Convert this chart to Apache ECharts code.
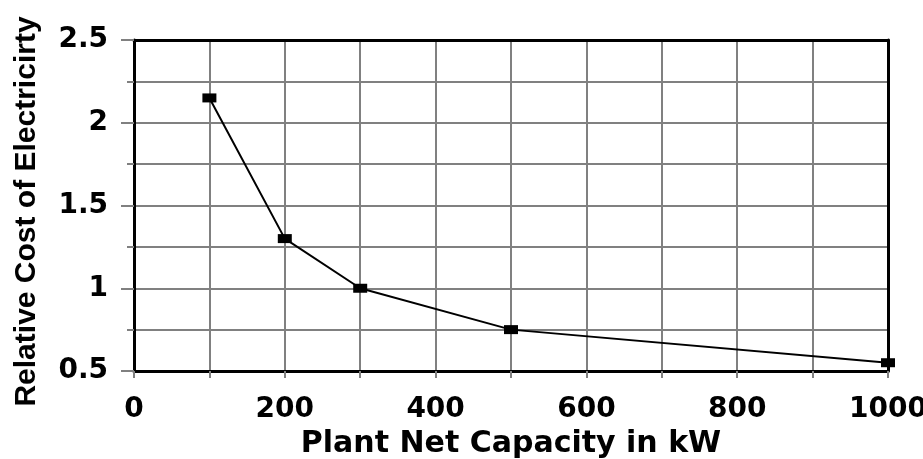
<!DOCTYPE html>
<html>
<head>
<meta charset="utf-8">
<script src="https://cdn.jsdelivr.net/npm/echarts@6/dist/echarts.min.js"></script>
<style>
  html, body { margin: 0; padding: 0; background: #fff; }
  #chart { width: 923px; height: 459px; }
</style>
</head>
<body>
<div id="chart"></div>
<script>
// Data
var capacityKW = [100, 200, 300, 500, 1000];
var relativeCost = [2.15, 1.30, 1.00, 0.75, 0.55];
var xTitle = 'Plant Net Capacity in kW';
var yTitle = 'Relative Cost of Electricirty';

var chart = echarts.init(document.getElementById('chart'), null, { renderer: 'canvas' });
var gray = '#808080';
var labelFont = { fontFamily: 'DejaVu Sans', fontWeight: 'bold', fontSize: 28, color: '#000' };
var borderAxis = {
  type: 'value', min: 0, max: 1000, interval: 100,
  axisLine: { show: true, onZero: false, lineStyle: { color: '#000', width: 3 } },
  axisTick: { show: false }, axisLabel: { show: false }, splitLine: { show: false }
};

chart.setOption({
  animation: false,
  backgroundColor: '#fff',
  grid: { left: 134, right: 35, top: 40, bottom: 88, containLabel: false, outerBoundsMode: 'none' },
  xAxis: [{
    type: 'value', min: 0, max: 1000, interval: 100,
    name: xTitle, nameLocation: 'middle', nameGap: 52,
    nameTextStyle: { fontFamily: 'DejaVu Sans', fontWeight: 'bold', fontSize: 30, color: '#000' },
    axisLine: { show: true, onZero: false, lineStyle: { color: '#000', width: 3 } },
    axisTick: { show: true, length: 7, lineStyle: { color: gray, width: 2 } },
    splitLine: { show: true, lineStyle: { color: gray, width: 2 } },
    axisLabel: Object.assign({ margin: 25, formatter: function (v) { return v % 200 === 0 ? String(v) : ''; } }, labelFont)
  }, Object.assign({ position: 'top' }, borderAxis)],
  yAxis: [{
    type: 'value', min: 0.5, max: 2.5, interval: 0.5,
    name: yTitle, nameLocation: 'middle', nameGap: 92, nameRotate: 90,
    nameTextStyle: { fontFamily: 'Liberation Sans', fontWeight: 'bold', fontSize: 30, color: '#000', padding: [0, 12, 0, 0] },
    axisLine: { show: true, onZero: false, lineStyle: { color: '#000', width: 3 } },
    axisTick: { show: true, length: 13, lineStyle: { color: gray, width: 2 } },
    minorTick: { show: true, splitNumber: 2, length: 7, lineStyle: { color: gray, width: 2 } },
    splitLine: { show: true, lineStyle: { color: gray, width: 2 } },
    minorSplitLine: { show: true, lineStyle: { color: gray, width: 2 } },
    axisLabel: Object.assign({ margin: 26, formatter: function (v) { return String(v); } }, labelFont)
  }, Object.assign({ position: 'right' }, borderAxis, { min: 0.5, max: 2.5, interval: 0.5 })],
  series: [{
    type: 'line',
    xAxisIndex: 0, yAxisIndex: 0,
    data: capacityKW.map(function (x, i) { return [x, relativeCost[i]]; }),
    symbol: 'rect', symbolSize: [14, 9],
    itemStyle: { color: '#000' },
    lineStyle: { color: '#000', width: 2 },
    z: 5
  }]
});
</script>
</body>
</html>
